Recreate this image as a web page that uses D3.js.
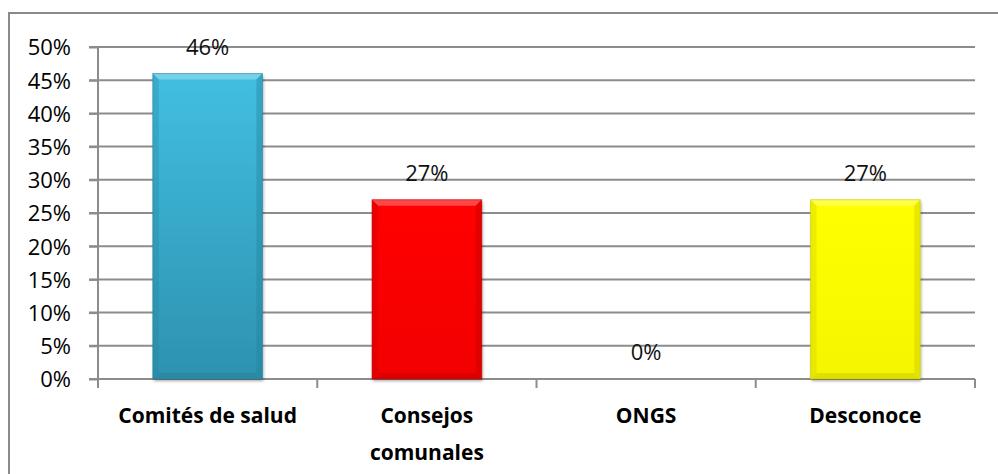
<!DOCTYPE html>
<html><head><meta charset="utf-8">
<script src="https://cdn.jsdelivr.net/npm/d3@7/dist/d3.min.js"></script>
<style>html,body{margin:0;padding:0;background:#fff;}svg{display:block;}</style>
</head><body>
<script>
const categories = ["Comités de salud", "Consejos comunales", "ONGS", "Desconoce"];
const categoryLines = [["Comités de salud"], ["Consejos", "comunales"], ["ONGS"], ["Desconoce"]];
const values = [0.46, 0.27, 0.0, 0.27];
const valueLabels = ["46%", "27%", "0%", "27%"];
const tickValues = [0, 0.05, 0.10, 0.15, 0.20, 0.25, 0.30, 0.35, 0.40, 0.45, 0.50];
const barColors = [
  {top: "#42bfe2", bottom: "#2d92af", edge: "#24809b"},
  {top: "#ff0000", bottom: "#f20000", edge: "#c00000"},
  {top: "#ffffff", bottom: "#ffffff", edge: "#ffffff"},
  {top: "#ffff00", bottom: "#f5f500", edge: "#c8c800"}
];

const W = 998, H = 474;
const svg = d3.select("body").append("svg").attr("width", W).attr("height", H);
const font = "'Open Sans', Lato, sans-serif";

// outer border
svg.append("rect").attr("x", 9).attr("y", 13).attr("width", W).attr("height", H)
  .attr("fill", "#fff").attr("stroke", "#8a8a8a").attr("stroke-width", 2);

const x = d3.scaleBand().domain(categories).range([98, 975]).paddingInner(0.5).paddingOuter(0.25);
const y = d3.scaleLinear().domain([0, 0.5]).range([379, 47]);

const defs = svg.append("defs");
barColors.forEach((c, i) => {
  const g = defs.append("linearGradient").attr("id", "g" + i).attr("x1", 0).attr("y1", 0).attr("x2", 0).attr("y2", 1);
  g.append("stop").attr("offset", "0%").attr("stop-color", c.top);
  g.append("stop").attr("offset", "100%").attr("stop-color", c.bottom);
});
const f = defs.append("filter").attr("id", "sh").attr("x", "-10%").attr("y", "-10%").attr("width", "130%").attr("height", "130%");
f.append("feDropShadow").attr("dx", 1).attr("dy", 2).attr("stdDeviation", 1.5).attr("flood-color", "#000").attr("flood-opacity", 0.35);

// gridlines
svg.append("g").selectAll("line").data(tickValues.slice(1)).join("line")
  .attr("x1", 89).attr("x2", 975)
  .attr("y1", d => y(d)).attr("y2", d => y(d))
  .attr("stroke", "#8c8c8c").attr("stroke-width", 2);

// y axis
const yAxis = d3.axisLeft(y).tickValues(tickValues).tickSize(9).tickPadding(18)
  .tickFormat(d => Math.round(d * 100) + "%");
const yg = svg.append("g").attr("transform", "translate(98,0)").call(yAxis);
yg.select(".domain").attr("stroke", "#8c8c8c").attr("stroke-width", 2).attr("d", `M0,${y(0.5)}V${y(0)}`);
yg.selectAll(".tick line").attr("stroke", "#8c8c8c").attr("stroke-width", 2);
yg.selectAll(".tick text").attr("font-family", font).attr("font-size", 22).attr("fill", "#000").attr("dy", "0.36em");

// x axis baseline and ticks
svg.append("line").attr("x1", 89).attr("x2", 975).attr("y1", y(0)).attr("y2", y(0))
  .attr("stroke", "#8c8c8c").attr("stroke-width", 2);
const step = x.step();
const boundaries = d3.range(categories.length + 1).map(i => 98 + i * step);
svg.append("g").selectAll("line").data(boundaries).join("line")
  .attr("x1", d => d).attr("x2", d => d).attr("y1", y(0)).attr("y2", y(0) + 9)
  .attr("stroke", "#8c8c8c").attr("stroke-width", 2);

// bars
const bars = svg.append("g");
categories.forEach((c, i) => {
  if (values[i] <= 0) return;
  const bx = x(c), bw = x.bandwidth(), by = y(values[i]), bh = y(0) - y(values[i]);
  const col = barColors[i];
  const g = bars.append("g");
  g.append("rect").attr("x", bx).attr("y", by).attr("width", bw).attr("height", bh)
    .attr("fill", `url(#g${i})`).attr("filter", "url(#sh)");
  const b = 6;
  g.append("path").attr("d", `M${bx},${by}H${bx + bw}L${bx + bw - b},${by + b}H${bx + b}Z`)
    .attr("fill", "#fff").attr("opacity", 0.28);
  g.append("path").attr("d", `M${bx},${by}L${bx + b},${by + b}V${by + bh - b}L${bx},${by + bh}Z`)
    .attr("fill", col.edge).attr("opacity", 0.3);
  g.append("path").attr("d", `M${bx + bw},${by}L${bx + bw - b},${by + b}V${by + bh - b}L${bx + bw},${by + bh}Z`)
    .attr("fill", col.edge).attr("opacity", 0.4);
  g.append("path").attr("d", `M${bx},${by + bh}L${bx + b},${by + bh - b}H${bx + bw - b}L${bx + bw},${by + bh}Z`)
    .attr("fill", col.edge).attr("opacity", 0.45);
  g.append("rect").attr("x", bx).attr("y", by).attr("width", bw).attr("height", bh)
    .attr("fill", "none").attr("stroke", col.edge).attr("stroke-width", 1).attr("opacity", 0.6);
});

// value labels
svg.append("g").selectAll("text").data(categories).join("text")
  .attr("x", d => x(d) + x.bandwidth() / 2)
  .attr("y", (d, i) => y(values[i]) - 19)
  .attr("text-anchor", "middle").attr("font-family", font).attr("font-size", 22).attr("fill", "#111")
  .text((d, i) => valueLabels[i]);

// category labels
const cl = svg.append("g");
categories.forEach((c, i) => {
  const t = cl.append("text").attr("x", x(c) + x.bandwidth() / 2).attr("y", 423)
    .attr("text-anchor", "middle").attr("font-family", font).attr("font-weight", "bold")
    .attr("font-size", 21).attr("fill", "#000");
  categoryLines[i].forEach((ln, j) => {
    t.append("tspan").attr("x", x(c) + x.bandwidth() / 2).attr("y", 423 + j * 37).text(ln);
  });
});
</script>
</body></html>
